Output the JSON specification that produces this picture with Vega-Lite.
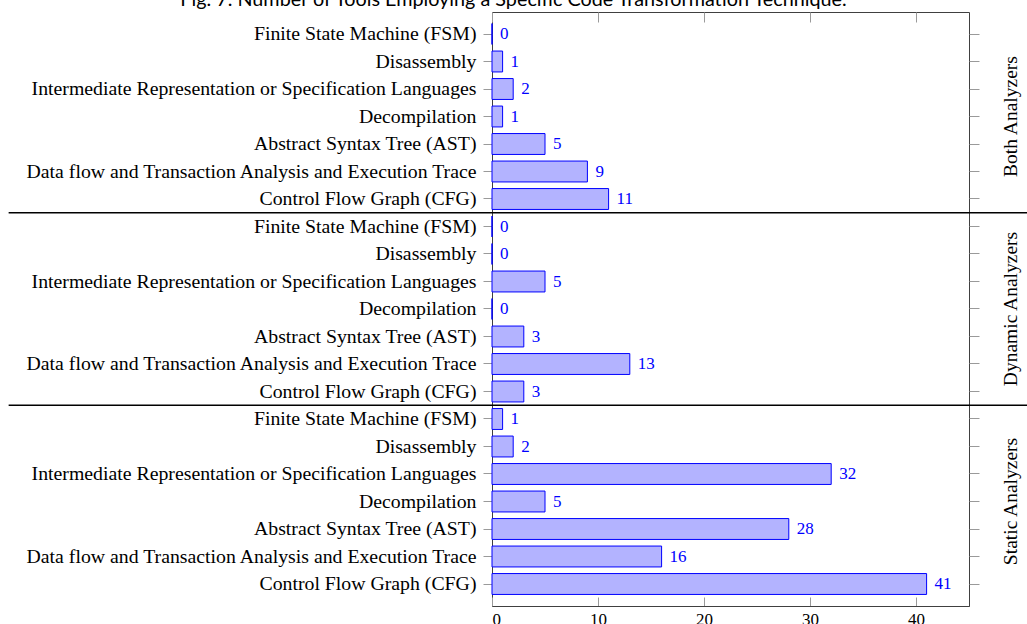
{
  "$schema": "https://vega.github.io/schema/vega-lite/v6.json",
  "width": 477,
  "height": 594,
  "autosize": "none",
  "padding": {"left": 492, "top": 12, "right": 58, "bottom": 18},
  "background": "white",
  "title": {
    "text": "Fig. 7. Number of Tools Employing a Specific Code Transformation Technique.",
    "font": "Lato",
    "fontSize": 19.8,
    "fontWeight": "normal",
    "color": "black",
    "anchor": "middle",
    "frame": "group",
    "baseline": "alphabetic",
    "offset": 0,
    "dx": -217,
    "dy": 14
  },
  "config": {
    "view": {"stroke": "#404040", "strokeWidth": 1},
    "axis": {
      "labelFont": "Liberation Serif",
      "labelFontSize": 19.8,
      "labelColor": "black",
      "tickColor": "#9a9a9a",
      "domain": false,
      "grid": false,
      "title": null
    }
  },
  "data": {
    "values": [
      {"group": "Both Analyzers", "technique": "Finite State Machine (FSM)", "key": "Both Analyzers | Finite State Machine (FSM)", "count": 0},
      {"group": "Both Analyzers", "technique": "Disassembly", "key": "Both Analyzers | Disassembly", "count": 1},
      {"group": "Both Analyzers", "technique": "Intermediate Representation or Specification Languages", "key": "Both Analyzers | Intermediate Representation or Specification Languages", "count": 2},
      {"group": "Both Analyzers", "technique": "Decompilation", "key": "Both Analyzers | Decompilation", "count": 1},
      {"group": "Both Analyzers", "technique": "Abstract Syntax Tree (AST)", "key": "Both Analyzers | Abstract Syntax Tree (AST)", "count": 5},
      {"group": "Both Analyzers", "technique": "Data flow and Transaction Analysis and Execution Trace", "key": "Both Analyzers | Data flow and Transaction Analysis and Execution Trace", "count": 9},
      {"group": "Both Analyzers", "technique": "Control Flow Graph (CFG)", "key": "Both Analyzers | Control Flow Graph (CFG)", "count": 11},
      {"group": "Dynamic Analyzers", "technique": "Finite State Machine (FSM)", "key": "Dynamic Analyzers | Finite State Machine (FSM)", "count": 0},
      {"group": "Dynamic Analyzers", "technique": "Disassembly", "key": "Dynamic Analyzers | Disassembly", "count": 0},
      {"group": "Dynamic Analyzers", "technique": "Intermediate Representation or Specification Languages", "key": "Dynamic Analyzers | Intermediate Representation or Specification Languages", "count": 5},
      {"group": "Dynamic Analyzers", "technique": "Decompilation", "key": "Dynamic Analyzers | Decompilation", "count": 0},
      {"group": "Dynamic Analyzers", "technique": "Abstract Syntax Tree (AST)", "key": "Dynamic Analyzers | Abstract Syntax Tree (AST)", "count": 3},
      {"group": "Dynamic Analyzers", "technique": "Data flow and Transaction Analysis and Execution Trace", "key": "Dynamic Analyzers | Data flow and Transaction Analysis and Execution Trace", "count": 13},
      {"group": "Dynamic Analyzers", "technique": "Control Flow Graph (CFG)", "key": "Dynamic Analyzers | Control Flow Graph (CFG)", "count": 3},
      {"group": "Static Analyzers", "technique": "Finite State Machine (FSM)", "key": "Static Analyzers | Finite State Machine (FSM)", "count": 1},
      {"group": "Static Analyzers", "technique": "Disassembly", "key": "Static Analyzers | Disassembly", "count": 2},
      {"group": "Static Analyzers", "technique": "Intermediate Representation or Specification Languages", "key": "Static Analyzers | Intermediate Representation or Specification Languages", "count": 32},
      {"group": "Static Analyzers", "technique": "Decompilation", "key": "Static Analyzers | Decompilation", "count": 5},
      {"group": "Static Analyzers", "technique": "Abstract Syntax Tree (AST)", "key": "Static Analyzers | Abstract Syntax Tree (AST)", "count": 28},
      {"group": "Static Analyzers", "technique": "Data flow and Transaction Analysis and Execution Trace", "key": "Static Analyzers | Data flow and Transaction Analysis and Execution Trace", "count": 16},
      {"group": "Static Analyzers", "technique": "Control Flow Graph (CFG)", "key": "Static Analyzers | Control Flow Graph (CFG)", "count": 41}
    ]
  },
  "layer": [
    {
      "mark": {"type": "bar", "fill": "#b3b3ff", "stroke": "#0000ff", "strokeWidth": 1},
      "encoding": {
        "y": {
          "field": "key", "type": "nominal", "sort": null,
          "scale": {"paddingInner": 0.24, "paddingOuter": 0.42},
          "axis": {
            "orient": "left",
            "tickSize": 9,
            "labelPadding": 7,
            "labelExpr": "split(datum.label, ' | ')[1]",
            "labelLimit": 600
          }
        },
        "x": {
          "field": "count", "type": "quantitative",
          "scale": {"domain": [0, 45], "nice": false},
          "axis": {
            "orient": "bottom",
            "values": [0, 10, 20, 30, 40],
            "tickSize": -9,
            "labelPadding": 14,
            "labelFontSize": 17,
            "domain": true,
            "domainColor": "#404040"
          }
        }
      }
    },
    {
      "mark": {"type": "text", "align": "left", "baseline": "middle", "dx": 8, "font": "Liberation Serif", "fontSize": 17, "color": "#0000ff"},
      "encoding": {
        "y": {
          "field": "key", "type": "nominal", "sort": null,
          "axis": {
            "orient": "right",
            "tickSize": 10,
            "labelPadding": 22,
            "labelAngle": 270,
            "labelAlign": "center",
            "labelBaseline": "top",
            "labelFontSize": 19.5,
            "labelExpr": "split(datum.label, ' | ')[1] == 'Decompilation' ? split(datum.label, ' | ')[0] : ''"
          }
        },
        "x": {
          "field": "count", "type": "quantitative",
          "axis": {
            "orient": "top",
            "values": [0, 10, 20, 30, 40],
            "tickSize": -10,
            "labels": false
          }
        },
        "text": {"field": "count", "type": "quantitative"}
      }
    },
    {
      "transform": [
        {"filter": "datum.technique == 'Finite State Machine (FSM)' && datum.group != 'Both Analyzers'"}
      ],
      "mark": {"type": "rule", "color": "black", "strokeWidth": 1.6},
      "encoding": {
        "y": {"field": "key", "type": "nominal", "sort": null, "bandPosition": -0.158, "axis": null},
        "x": {"datum": -45.6, "type": "quantitative", "axis": null},
        "x2": {"datum": 50.5}
      }
    }
  ],
  "resolve": {"axis": {"x": "independent", "y": "independent"}}
}
